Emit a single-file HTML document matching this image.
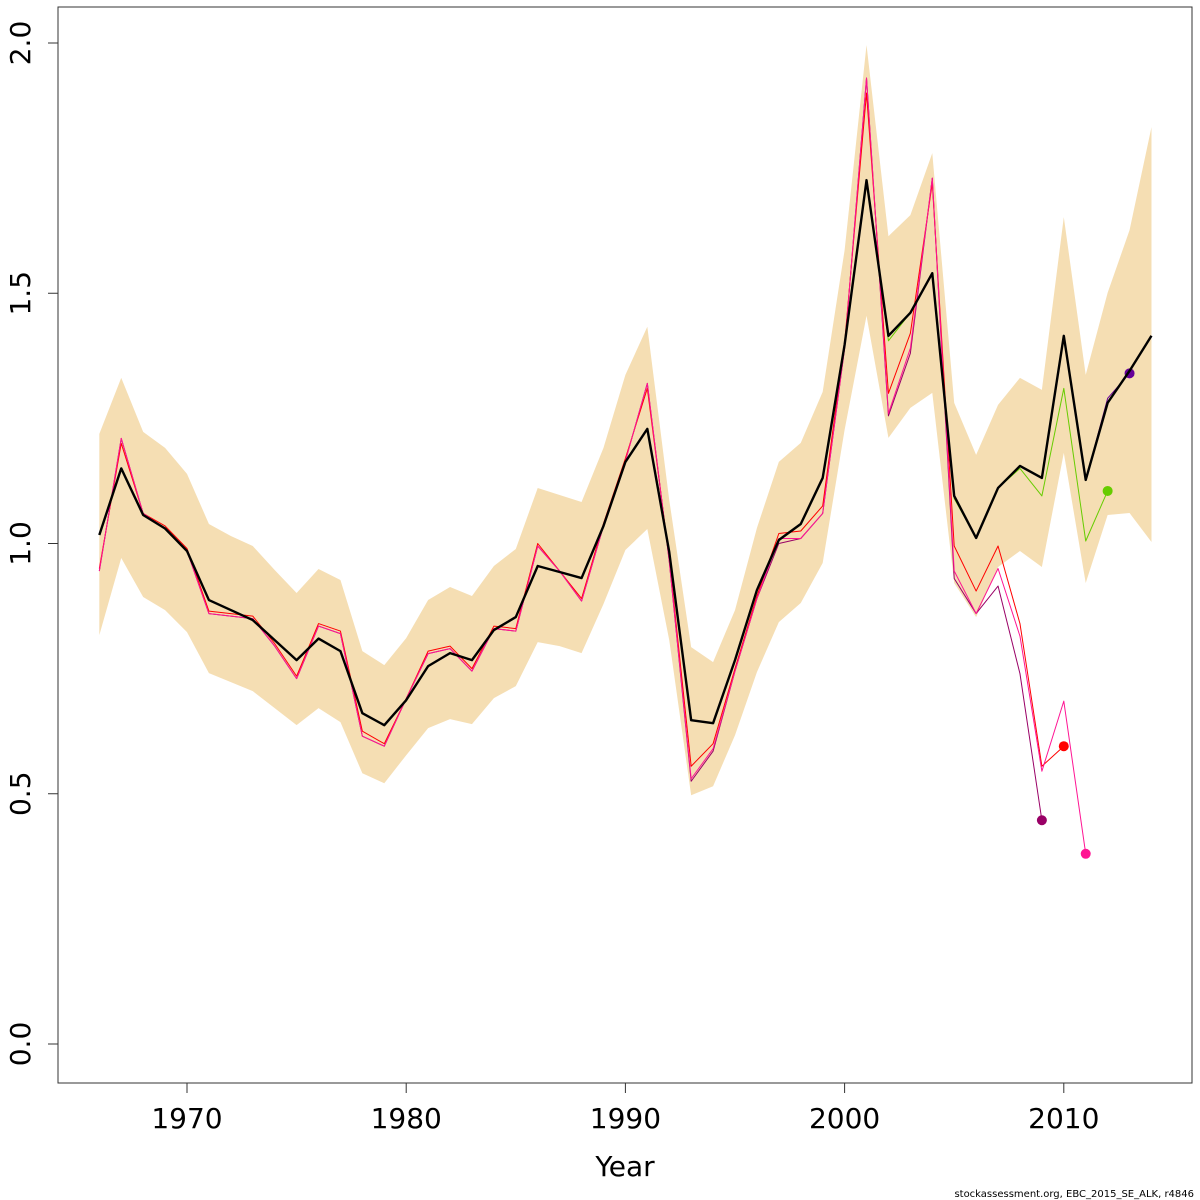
<!DOCTYPE html>
<html><head><meta charset="utf-8">
<style>
html,body{margin:0;padding:0;background:#fff;}
svg{display:block;font-family:"DejaVu Sans","Liberation Sans",sans-serif;}
</style></head>
<body>
<svg id="chart" width="1200" height="1200" viewBox="0 0 1200 1200" xmlns="http://www.w3.org/2000/svg">
<g id="band"></g>
<g id="lines"></g>
<g id="axes"></g>
<rect x="58" y="7" width="1134" height="1076" fill="none" stroke="#333" stroke-width="1"/>
<text x="625" y="1176" font-size="28" text-anchor="middle" fill="#000">Year</text>
<text x="1194" y="1197" font-size="10" text-anchor="end" fill="#000">stockassessment.org, EBC_2015_SE_ALK, r4846</text>
</svg>
<script>
const years = [1966,1967,1968,1969,1970,1971,1972,1973,1974,1975,1976,1977,1978,1979,1980,1981,1982,1983,1984,1985,1986,1987,1988,1989,1990,1991,1992,1993,1994,1995,1996,1997,1998,1999,2000,2001,2002,2003,2004,2005,2006,2007,2008,2009,2010,2011,2012,2013,2014];
const mainVals = [1.017,1.15,1.057,1.03,0.985,0.887,0.867,0.847,0.807,0.767,0.81,0.785,0.661,0.637,0.687,0.755,0.781,0.767,0.827,0.853,0.955,0.943,0.931,1.035,1.163,1.229,0.983,0.647,0.641,0.767,0.907,1.007,1.039,1.131,1.397,1.726,1.415,1.461,1.54,1.095,1.011,1.111,1.155,1.131,1.415,1.127,1.281,1.345,1.415];
const upperVals = [1.219,1.331,1.223,1.191,1.139,1.039,1.015,0.995,0.947,0.901,0.949,0.927,0.785,0.757,0.811,0.887,0.913,0.895,0.955,0.989,1.111,1.097,1.083,1.191,1.337,1.433,1.087,0.793,0.763,0.867,1.031,1.163,1.201,1.303,1.586,1.996,1.614,1.656,1.78,1.281,1.177,1.277,1.331,1.307,1.652,1.337,1.501,1.626,1.832];
const lowerVals = [0.817,0.971,0.893,0.867,0.823,0.741,0.723,0.705,0.671,0.637,0.671,0.643,0.541,0.521,0.577,0.631,0.649,0.639,0.691,0.715,0.803,0.795,0.781,0.879,0.987,1.029,0.807,0.497,0.515,0.617,0.743,0.843,0.881,0.961,1.227,1.455,1.211,1.271,1.301,0.921,0.853,0.953,0.985,0.953,1.181,0.921,1.057,1.061,1.003];
const redVals = [0.95,1.2,1.06,1.035,0.99,0.865,0.86,0.855,0.8,0.735,0.84,0.825,0.625,0.6,0.69,0.785,0.795,0.75,0.835,0.83,1.0,0.945,0.89,1.04,1.17,1.31,0.97,0.555,0.6,0.75,0.895,1.02,1.025,1.075,1.4,1.9,1.3,1.42,1.72,0.995,0.905,0.995,0.84,0.555,0.595];
const pinkVals = [0.945,1.21,1.06,1.03,0.985,0.86,0.855,0.85,0.795,0.73,0.835,0.82,0.615,0.595,0.69,0.78,0.79,0.745,0.83,0.825,0.995,0.945,0.885,1.035,1.165,1.32,0.965,0.53,0.59,0.745,0.89,1.01,1.01,1.06,1.39,1.93,1.26,1.39,1.73,0.945,0.86,0.95,0.815,0.545,0.685,0.38];
const magentaVals = [0.945,1.21,1.06,1.03,0.985,0.86,0.855,0.85,0.795,0.73,0.835,0.82,0.615,0.595,0.69,0.78,0.79,0.745,0.83,0.825,0.995,0.945,0.885,1.035,1.165,1.32,0.965,0.525,0.585,0.745,0.89,1.0,1.01,1.06,1.39,1.93,1.255,1.38,1.73,0.93,0.86,0.915,0.74,0.447];
const greenVals = [1.017,1.15,1.057,1.03,0.985,0.887,0.867,0.847,0.807,0.767,0.81,0.785,0.661,0.637,0.687,0.755,0.781,0.767,0.827,0.853,0.955,0.943,0.931,1.035,1.163,1.229,0.983,0.647,0.641,0.767,0.907,1.007,1.039,1.131,1.397,1.726,1.405,1.461,1.54,1.09,1.011,1.111,1.15,1.095,1.31,1.005,1.105];
const purpleVals = [1.017,1.15,1.057,1.03,0.985,0.887,0.867,0.847,0.807,0.767,0.81,0.785,0.661,0.637,0.687,0.755,0.781,0.767,0.827,0.853,0.955,0.943,0.931,1.035,1.163,1.229,0.983,0.647,0.641,0.767,0.907,1.007,1.039,1.131,1.397,1.726,1.415,1.461,1.54,1.095,1.011,1.111,1.155,1.131,1.415,1.127,1.29,1.34];
const yTicks = [0,0.5,1,1.5,2];
const yTickLabels = ["0.0","0.5","1.0","1.5","2.0"];
const xTicks = [1970,1980,1990,2000,2010];

const NS = "http://www.w3.org/2000/svg";
function xs(yr){ return 187 + (yr - 1970) * 21.92; }
function ys(v){ return 1044 - v * 500.5; }
function mk(tag, attrs, parent){ const e = document.createElementNS(NS, tag); for (const k in attrs) e.setAttribute(k, attrs[k]); parent.appendChild(e); return e; }

const band = document.getElementById('band');
let d = "";
years.forEach((yr,i)=>{ d += (i?"L":"M") + xs(yr) + "," + ys(upperVals[i]); });
for (let i = years.length-1; i >= 0; i--) d += "L" + xs(years[i]) + "," + ys(lowerVals[i]);
const bp = mk('path', {d: d + "Z", fill: "#f5deb3", stroke: "none"}, band);



const lines = document.getElementById('lines');
function drawSeries(vals, color, width, name, dot){
  let p = "";
  vals.forEach((v,i)=>{ p += (i?"L":"M") + xs(years[i]) + "," + ys(v); });
  const el = mk('path', {d: p, fill: "none", stroke: color, "stroke-width": width, "stroke-linejoin": "round"}, lines);
  
  
  if (dot) {
    const n = vals.length - 1;
    const c = mk('circle', {cx: xs(years[n]), cy: ys(vals[n]), r: 5, fill: color}, lines);
    
    
  }
}
drawSeries(magentaVals, "#990066", 1, "retro-2009-line", true);
drawSeries(redVals, "#ff0000", 1, "retro-2010-line", true);
drawSeries(pinkVals, "#ff1493", 1, "retro-2011-line", true);
drawSeries(purpleVals, "#660099", 1, "retro-2013-line", true);
drawSeries(greenVals, "#66cc00", 1, "retro-2012-line", true);
drawSeries(mainVals, "#000000", 2.4, "final-estimate-line", false);

const axes = document.getElementById('axes');
yTicks.forEach((t,i)=>{
  const l = mk('line', {x1: 48, x2: 58, y1: ys(t), y2: ys(t), stroke: "#333", "stroke-width": 1}, axes);
  
  
  const tx = mk('text', {x: 0, y: 0, "font-size": 28, "text-anchor": "middle", fill: "#000", transform: "translate(30," + ys(t) + ") rotate(-90)"}, axes);
  tx.textContent = yTickLabels[i];
  
  
});
xTicks.forEach(t=>{
  const l = mk('line', {x1: xs(t), x2: xs(t), y1: 1083, y2: 1093, stroke: "#333", "stroke-width": 1}, axes);
  
  
  const tx = mk('text', {x: xs(t), y: 1128, "font-size": 28, "text-anchor": "middle", fill: "#000"}, axes);
  tx.textContent = t;
  
  
});
</script>
</body></html>
